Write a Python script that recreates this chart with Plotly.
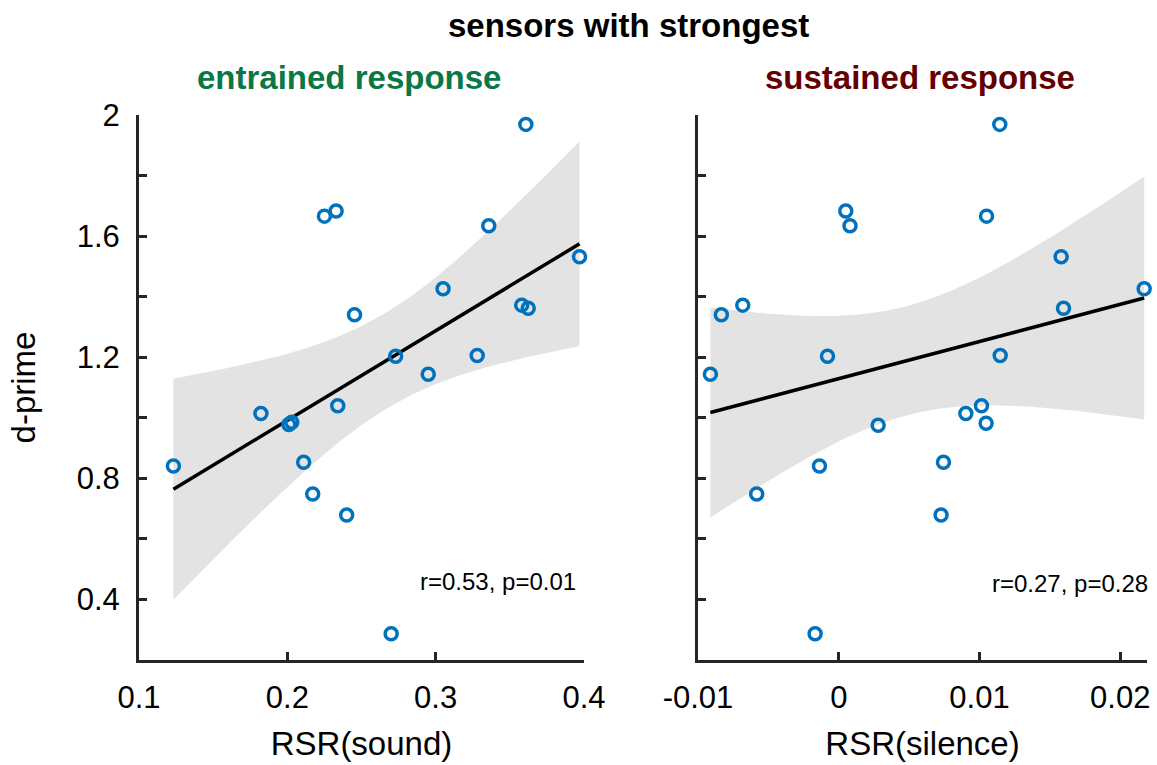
import numpy as np
import plotly.graph_objects as go

# ---------------- data ----------------
rsr_sound = [0.3608, 0.2250, 0.2329, 0.3358, 0.3970, 0.3050, 0.2453, 0.3580,
             0.3624, 0.2730, 0.3280, 0.2950, 0.1822, 0.2340, 0.2010, 0.2030,
             0.1232, 0.2110, 0.2171, 0.2400, 0.2700]
dprime_sound = [1.969, 1.666, 1.683, 1.634, 1.532, 1.426, 1.340, 1.372,
                1.362, 1.203, 1.206, 1.144, 1.014, 1.040, 0.978, 0.985,
                0.841, 0.853, 0.748, 0.679, 0.287]

rsr_silence = [0.01144, 0.00050, 0.00080, 0.01050, 0.01580, 0.02170, -0.00682,
               -0.00834, 0.01597, -0.00080, 0.01147, -0.00912, 0.00903, 0.01014,
               0.00280, 0.01047, -0.00137, 0.00744, -0.00583, 0.00727, -0.00168]
dprime_silence = [1.969, 1.683, 1.634, 1.666, 1.532, 1.426, 1.372, 1.340,
                  1.362, 1.203, 1.206, 1.144, 1.014, 1.040, 0.975, 0.982,
                  0.841, 0.853, 0.748, 0.679, 0.287]

stats_sound = "r=0.53, p=0.01"
stats_silence = "r=0.27, p=0.28"

x1_ticks = [0.1, 0.2, 0.3, 0.4]
x1_labels = ["0.1", "0.2", "0.3", "0.4"]
x2_ticks = [-0.01, 0.0, 0.01, 0.02]
x2_labels = ["-0.01", "0", "0.01", "0.02"]
y_ticks = [0.4, 0.6, 0.8, 1.0, 1.2, 1.4, 1.6, 1.8, 2.0]
y_labels = ["0.4", "", "0.8", "", "1.2", "", "1.6", "", "2"]

T_CRIT = 2.093  # t(0.975, df=19)


def fit_band(x, y, n_pts=120):
    x = np.asarray(x, float)
    y = np.asarray(y, float)
    n = len(x)
    b, a = np.polyfit(x, y, 1)
    resid = y - (a + b * x)
    s = np.sqrt(np.sum(resid ** 2) / (n - 2))
    xm = x.mean()
    sxx = np.sum((x - xm) ** 2)
    xs = np.linspace(x.min(), x.max(), n_pts)
    yh = a + b * xs
    half = T_CRIT * s * np.sqrt(1.0 / n + (xs - xm) ** 2 / sxx)
    return xs, yh, yh - half, yh + half


W, H = 1157, 765
BLUE = "#0072BD"
AX = "#262626"
FONT = "Liberation Sans, Arial, Helvetica, sans-serif"

fig = go.Figure()

panels = [
    (rsr_sound, dprime_sound, "x", "y"),
    (rsr_silence, dprime_silence, "x2", "y2"),
]
for xv, yv, xa, ya in panels:
    xs, yh, lo, hi = fit_band(xv, yv)
    fig.add_trace(go.Scatter(
        x=np.concatenate([xs, xs[::-1]]), y=np.concatenate([hi, lo[::-1]]),
        fill="toself", fillcolor="#e3e3e3", line=dict(width=0),
        mode="lines", hoverinfo="skip", showlegend=False, xaxis=xa, yaxis=ya))
    fig.add_trace(go.Scatter(
        x=xs, y=yh, mode="lines", line=dict(color="black", width=3.5),
        showlegend=False, xaxis=xa, yaxis=ya))
    fig.add_trace(go.Scatter(
        x=xv, y=yv, mode="markers",
        marker=dict(symbol="circle-open", size=12, color=BLUE,
                    line=dict(width=3.5, color=BLUE)),
        showlegend=False, xaxis=xa, yaxis=ya, cliponaxis=False))

common_x = dict(showline=True, linecolor=AX, linewidth=3, ticks="inside",
                ticklen=8, tickwidth=3, tickcolor=AX, showgrid=False,
                zeroline=False, tickfont=dict(size=31, color="black", family=FONT),
                ticklabelstandoff=8, automargin=False)
common_y = dict(showline=True, linecolor=AX, linewidth=3, ticks="inside",
                ticklen=8, tickwidth=3, tickcolor=AX, showgrid=False,
                zeroline=False, tickfont=dict(size=31, color="black", family=FONT),
                range=[0.2, 2.0], tickmode="array", tickvals=y_ticks,
                ticktext=y_labels, automargin=False)

ydom = [105 / H, 650 / H]
fig.update_layout(
    width=W, height=H, margin=dict(l=0, r=0, t=0, b=0),
    paper_bgcolor="white", plot_bgcolor="white",
    font=dict(family=FONT, color="black"),
    xaxis=dict(domain=[139 / W, 584 / W], range=[0.1, 0.4], tickmode="array",
               tickvals=x1_ticks, ticktext=x1_labels,
               title=dict(text="RSR(sound)", font=dict(size=33), standoff=18),
               **common_x),
    yaxis=dict(domain=ydom, anchor="x",
               title=dict(text="d-prime", font=dict(size=33), standoff=32),
               ticklabelstandoff=10, **common_y),
    xaxis2=dict(domain=[698 / W, 1147 / W], range=[-0.01, 0.0219],
                tickmode="array", tickvals=x2_ticks, ticktext=x2_labels,
                anchor="y2",
                title=dict(text="RSR(silence)", font=dict(size=33), standoff=18),
                **common_x),
    yaxis2=dict(domain=ydom, anchor="x2", showticklabels=False, **common_y),
)

fig.add_annotation(text="<b>sensors with strongest</b>", x=628 / W, y=1 - 26 / H,
                   xref="paper", yref="paper", showarrow=False,
                   font=dict(size=33, color="black", family=FONT),
                   xanchor="center", yanchor="middle")
fig.add_annotation(text="<b>entrained response</b>", x=349 / W, y=1 - 78 / H,
                   xref="paper", yref="paper", showarrow=False,
                   font=dict(size=33, color="#0a7846", family=FONT),
                   xanchor="center", yanchor="middle")
fig.add_annotation(text="<b>sustained response</b>", x=920 / W, y=1 - 78 / H,
                   xref="paper", yref="paper", showarrow=False,
                   font=dict(size=33, color="#650000", family=FONT),
                   xanchor="center", yanchor="middle")
fig.add_annotation(text=stats_sound, x=578 / W, y=1 - 581 / H,
                   xref="paper", yref="paper", showarrow=False,
                   font=dict(size=24, color="black", family=FONT),
                   xanchor="right", yanchor="middle")
fig.add_annotation(text=stats_silence, x=1150 / W, y=1 - 583 / H,
                   xref="paper", yref="paper", showarrow=False,
                   font=dict(size=24, color="black", family=FONT),
                   xanchor="right", yanchor="middle")

fig.write_html("out.html")
